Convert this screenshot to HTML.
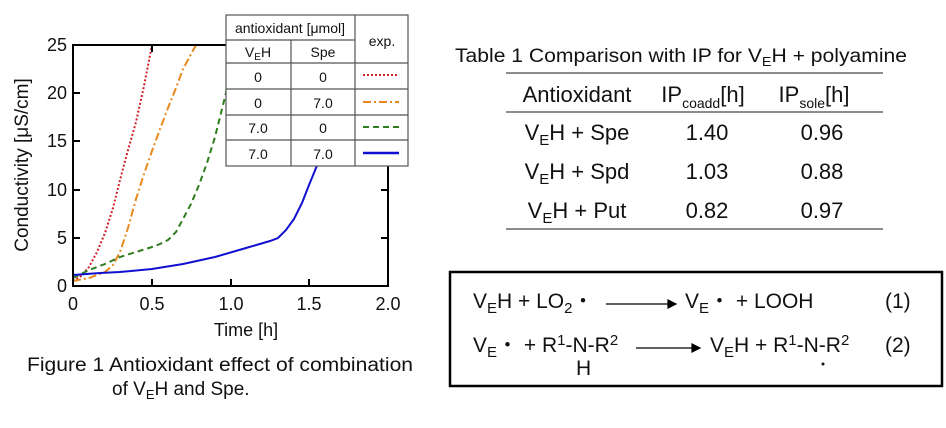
<!DOCTYPE html>
<html><head><style>
body{margin:0;background:#fff;}
svg text{font-family:"Liberation Sans",Arial,sans-serif;fill:#111;}
</style></head><body>
<svg width="946" height="423" xmlns="http://www.w3.org/2000/svg">
<rect width="946" height="423" fill="#fff"/>
<polyline fill="none" stroke="#d0202a" stroke-width="2" stroke-dasharray="2,2" points="73,281 81,276 89,267 97,252 105,233 113,208 120,180 128,150 136,122 144,86 152,45"/>
<polyline fill="none" stroke="#e8891c" stroke-width="2" stroke-dasharray="8,3,2,3" points="73,281 89,278 105,272 113,265 120,252 128,228 136,199 144,174 152,151 160,129 168,108 176,88 183,69 190,56 196,45"/>
<polyline fill="none" stroke="#2e7d1e" stroke-width="2" stroke-dasharray="6,4" points="73,278 89,270 105,264 120,257 136,252 152,247 160,244 168,240 176,232 183,219 191,204 199,185 207,163 215,137 221,113 228,85"/>
<polyline fill="none" stroke="#1010d0" stroke-width="2" points="73,275 100,273 120,272 152,269 183,264 215,257 246,248 270,241 278,238 286,230 294,219 302,203 309,185 316,168 322,155"/>
<rect x="73" y="45" width="315" height="241" fill="none" stroke="#000" stroke-width="2"/>
<g stroke="#000" stroke-width="2">
<line x1="73" y1="238" x2="80" y2="238"/><line x1="73" y1="190" x2="80" y2="190"/><line x1="73" y1="141" x2="80" y2="141"/><line x1="73" y1="93" x2="80" y2="93"/>
<line x1="388" y1="238" x2="381" y2="238"/><line x1="388" y1="190" x2="381" y2="190"/>
<line x1="152" y1="286" x2="152" y2="279"/><line x1="231" y1="286" x2="231" y2="279"/><line x1="309" y1="286" x2="309" y2="279"/>
<line x1="152" y1="45" x2="152" y2="52"/>
</g>
<g font-size="18" text-anchor="end">
<text x="67" y="292">0</text><text x="67" y="244">5</text><text x="67" y="196">10</text><text x="67" y="147">15</text><text x="67" y="99">20</text><text x="67" y="51">25</text>
</g>
<g font-size="18" text-anchor="middle">
<text x="73" y="310">0</text><text x="152" y="310">0.5</text><text x="231" y="310">1.0</text><text x="309" y="310">1.5</text><text x="388" y="310">2.0</text>
<text x="246" y="336">Time  [h]</text>
<text transform="translate(28,165) rotate(-90)" font-size="19">Conductivity  [μS/cm]</text>
</g>
<text x="27" y="371" font-size="19" textLength="386" lengthAdjust="spacingAndGlyphs">Figure 1 Antioxidant  effect of combination</text>
<text x="112" y="395" font-size="19">of V<tspan font-size="13" dy="4">E</tspan><tspan dy="-4">H  and Spe.</tspan></text>
<rect x="226" y="15" width="182" height="151" fill="#fff" stroke="#555" stroke-width="1.2"/>
<g stroke="#555" stroke-width="1.2">
<line x1="355" y1="15" x2="355" y2="166"/>
<line x1="291" y1="40" x2="291" y2="166"/>
<line x1="226" y1="40" x2="355" y2="40"/>
<line x1="226" y1="63" x2="408" y2="63"/>
<line x1="226" y1="89" x2="408" y2="89"/>
<line x1="226" y1="115" x2="408" y2="115"/>
<line x1="226" y1="140" x2="408" y2="140"/>
</g>
<g font-size="14" text-anchor="middle">
<text x="290" y="33">antioxidant  [μmol]</text>
<text x="382" y="46">exp.</text>
<text x="258" y="57">V<tspan font-size="10" dy="3">E</tspan><tspan dy="-3">H</tspan></text><text x="323" y="57">Spe</text>
<text x="258" y="82">0</text><text x="323" y="82">0</text>
<text x="258" y="108">0</text><text x="323" y="108">7.0</text>
<text x="258" y="133">7.0</text><text x="323" y="133">0</text>
<text x="258" y="159">7.0</text><text x="323" y="159">7.0</text>
</g>
<line x1="363" y1="75" x2="399" y2="75" stroke="#d0202a" stroke-width="2" stroke-dasharray="2,2"/>
<line x1="363" y1="102" x2="399" y2="102" stroke="#e8891c" stroke-width="2" stroke-dasharray="8,3,2,3"/>
<line x1="363" y1="127" x2="399" y2="127" stroke="#2e7d1e" stroke-width="2" stroke-dasharray="6,4"/>
<line x1="363" y1="153" x2="399" y2="153" stroke="#1010d0" stroke-width="2.5"/>
<text x="455" y="62" font-size="19" textLength="452" lengthAdjust="spacingAndGlyphs">Table 1 Comparison with IP for V<tspan font-size="13" dy="4">E</tspan><tspan dy="-4">H  + polyamine</tspan></text>
<g stroke="#666" stroke-width="1.5">
<line x1="506" y1="73" x2="883" y2="73"/><line x1="506" y1="112" x2="883" y2="112"/><line x1="506" y1="229" x2="883" y2="229"/>
</g>
<g font-size="22" text-anchor="middle">
<text x="577" y="102">Antioxidant</text>
<text x="703" y="102">IP<tspan font-size="14" dy="6">coadd</tspan><tspan dy="-6">[h]</tspan></text>
<text x="814" y="102">IP<tspan font-size="14" dy="6">sole</tspan><tspan dy="-6">[h]</tspan></text>
<text x="577" y="140">V<tspan font-size="15" dy="5">E</tspan><tspan dy="-5">H + Spe</tspan></text>
<text x="577" y="179">V<tspan font-size="15" dy="5">E</tspan><tspan dy="-5">H + Spd</tspan></text>
<text x="577" y="218">V<tspan font-size="15" dy="5">E</tspan><tspan dy="-5">H + Put</tspan></text>
<text x="707" y="140">1.40</text><text x="822" y="140">0.96</text>
<text x="707" y="179">1.03</text><text x="822" y="179">0.88</text>
<text x="707" y="218">0.82</text><text x="822" y="218">0.97</text>
</g>
<rect x="450" y="272" width="492" height="114" fill="none" stroke="#000" stroke-width="2.5"/>
<g font-size="21">
<text x="473" y="308">V<tspan font-size="15" dy="5">E</tspan><tspan dy="-5">H + LO</tspan><tspan font-size="15" dy="5">2</tspan><tspan dy="-5">・</tspan></text>
<text x="685" y="308">V<tspan font-size="15" dy="5">E</tspan><tspan dy="-5">・ + LOOH</tspan></text>
<text x="885" y="308">(1)</text>
<text x="473" y="352">V<tspan font-size="15" dy="5">E</tspan><tspan dy="-5">・ + R</tspan><tspan font-size="15" dy="-7">1</tspan><tspan dy="7">-N-R</tspan><tspan font-size="15" dy="-7">2</tspan></text>
<text x="576" y="375">H</text>
<text x="710" y="352">V<tspan font-size="15" dy="5">E</tspan><tspan dy="-5">H + R</tspan><tspan font-size="15" dy="-7">1</tspan><tspan dy="7">-N-R</tspan><tspan font-size="15" dy="-7">2</tspan></text>
<text x="885" y="352">(2)</text>
</g>
<circle cx="823" cy="364" r="1.5" fill="#111"/>
<g stroke="#000" stroke-width="1.2" fill="#000">
<line x1="606" y1="304" x2="674" y2="304"/><polygon points="676,304 668,300 668,308"/>
<line x1="636" y1="348" x2="698" y2="348"/><polygon points="700,348 692,344 692,352"/>
</g>
</svg>
</body></html>
